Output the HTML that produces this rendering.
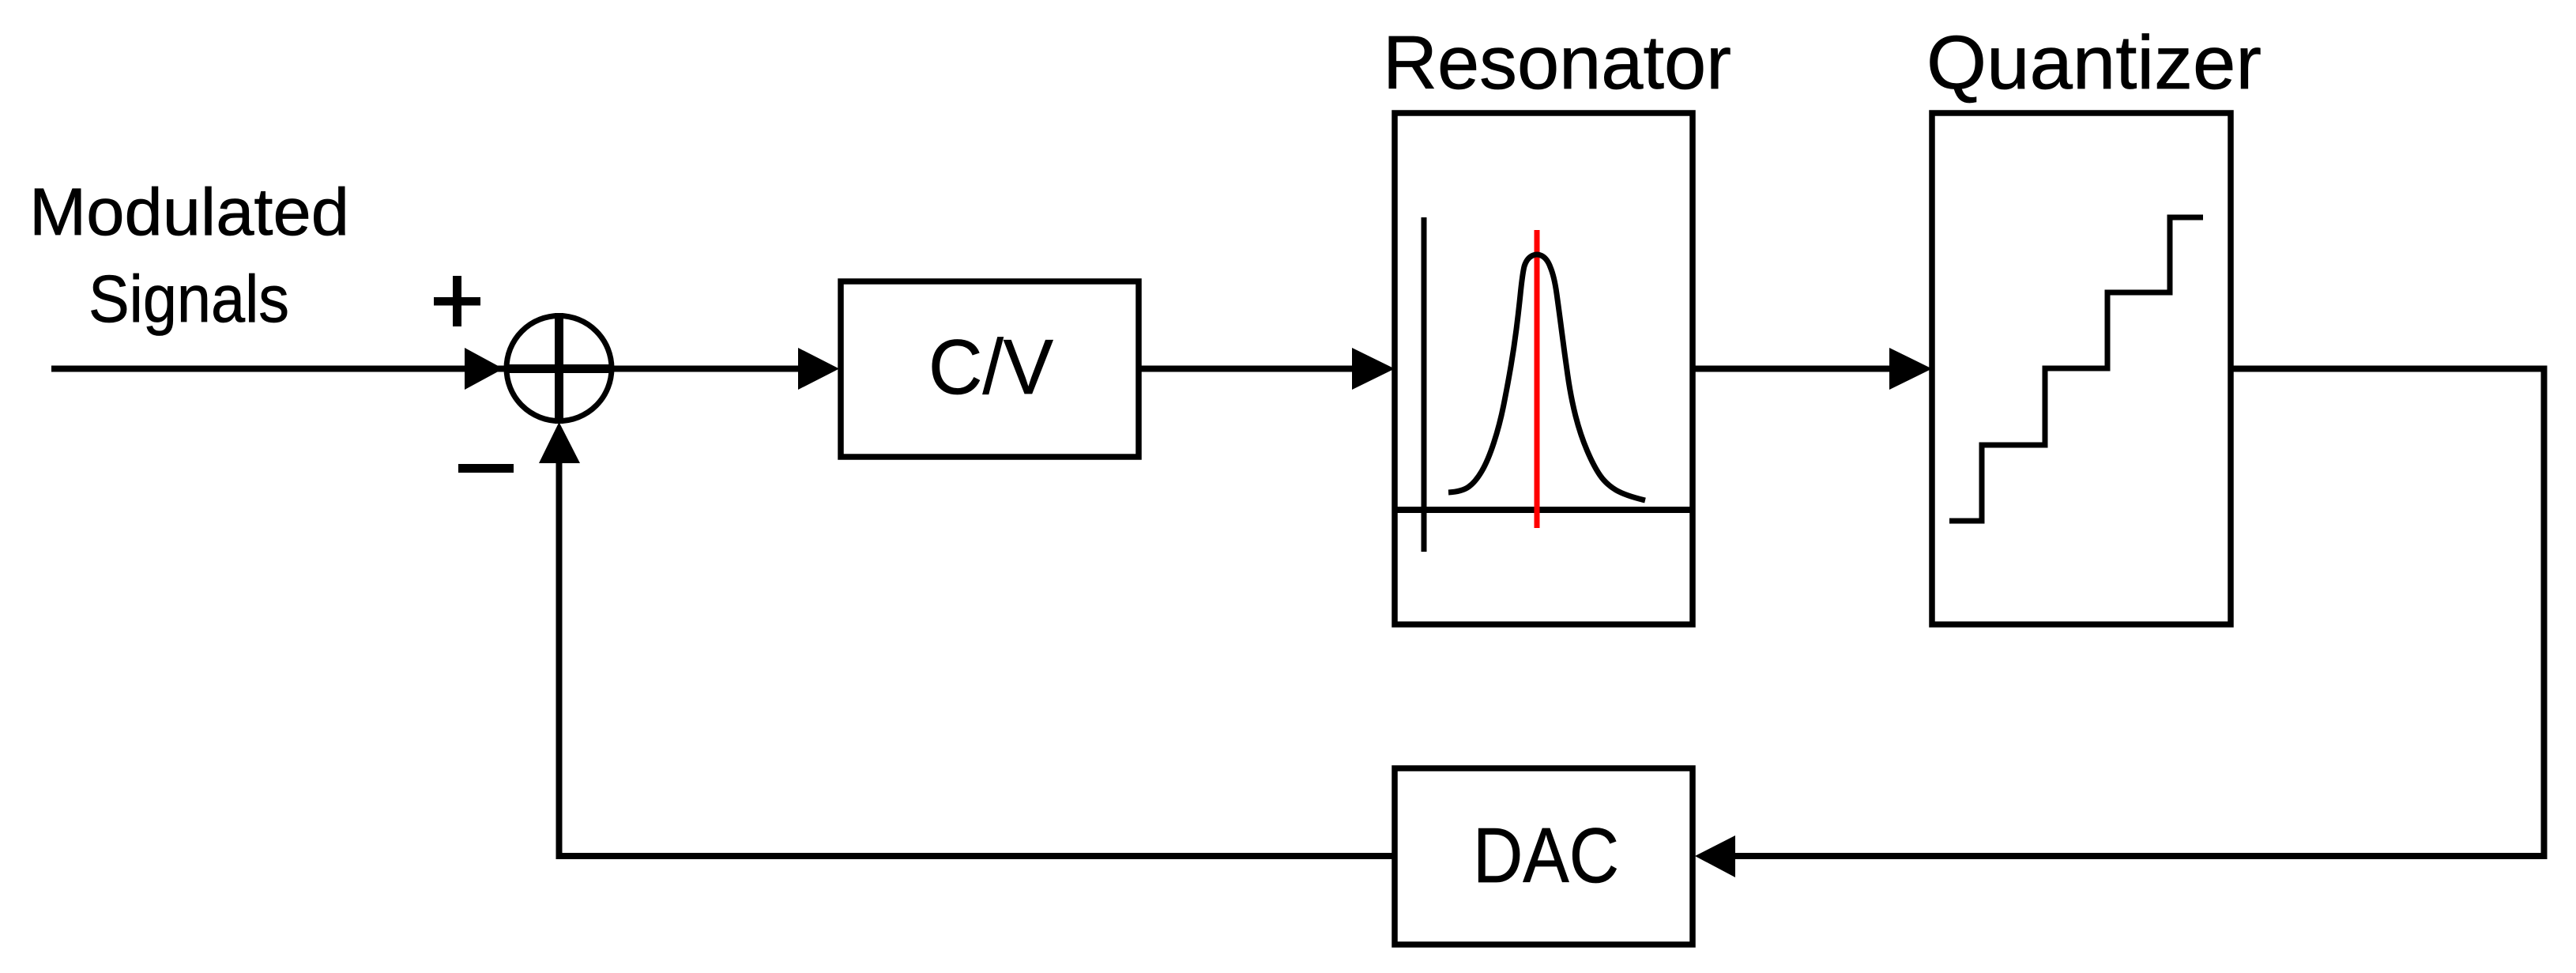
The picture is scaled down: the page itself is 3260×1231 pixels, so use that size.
<!DOCTYPE html>
<html><head><meta charset="utf-8"><style>
html,body{margin:0;padding:0;background:#fff;width:3260px;height:1231px;overflow:hidden}
svg{display:block}
text{font-family:"Liberation Sans",sans-serif;fill:#000;stroke:#000;stroke-width:.7}
</style></head><body>
<svg width="3260" height="1231" viewBox="0 0 3260 1231" xmlns="http://www.w3.org/2000/svg">
<rect width="3260" height="1231" fill="#fff"/>
<g fill="none" stroke="#000" stroke-width="7.5">
<rect x="1064" y="356" width="377" height="222"/>
<rect x="1765" y="143" width="377" height="647"/>
<rect x="2445" y="143" width="378" height="647"/>
<rect x="1765" y="972" width="377" height="223"/>
<circle cx="707.5" cy="466" r="66.5" stroke-width="7"/>
<path d="M65 466.5H1015M1441 466.5H1715M2142 466.5H2395M2823 466.5H3219.5V1083H2190M1765 1083H707.5V580" stroke-width="8"/>
<path d="M641 466.5H774" stroke-width="11"/>
<path d="M707.5 396V536" stroke-width="11"/>
<path d="M1765 645H2142" stroke-width="8"/>
<path d="M1802 275V698" stroke-width="7"/>
<path d="M2467 659H2508V563H2588V466H2667V370H2746V275H2788" stroke-width="7"/>
<path d="M1945 291V668" stroke="#f00" stroke-width="7"/>
<path d="M1833 623Q1850 622 1858.5 616Q1867 610 1875 596.5Q1883 583 1890.5 560Q1898 537 1903 512Q1908 487 1912 463.5Q1916 440 1919 416.5Q1922 393 1924.5 368Q1927 345 1929 337Q1932 327 1939 323.5Q1945 320.5 1951 323.5Q1958 327 1962 338Q1967 350 1970 371.5Q1973 393 1976.5 420Q1980 447 1984 475Q1988 503 1994 526.5Q2000 550 2008.5 570Q2017 590 2025 601.5Q2033 613 2045 620Q2057 627 2082 633" stroke-width="7"/>
</g>
<g fill="#000">
<path d="M588 440L637 466.5L588 493Z"/>
<path d="M1010 440L1062 466.5L1010 493Z"/>
<path d="M1711 440L1765 466.5L1711 493Z"/>
<path d="M2391 440L2445 466.5L2391 493Z"/>
<path d="M2196 1057L2145 1083L2196 1110Z"/>
<path d="M707.5 534L734 586H682Z"/>
<rect x="549" y="376" width="59" height="10.5"/>
<rect x="573" y="349" width="11" height="64"/>
<rect x="580" y="587" width="70" height="11"/>
</g>
<text x="37" y="297" font-size="84" textLength="405" lengthAdjust="spacingAndGlyphs">Modulated</text>
<text x="112" y="407" font-size="84" textLength="254" lengthAdjust="spacingAndGlyphs">Signals</text>
<text x="1750" y="112" font-size="96" textLength="441" lengthAdjust="spacingAndGlyphs">Resonator</text>
<text x="2438" y="112" font-size="96" textLength="424" lengthAdjust="spacingAndGlyphs">Quantizer</text>
<text x="1175" y="498" font-size="98" textLength="158" lengthAdjust="spacingAndGlyphs">C/V</text>
<text x="1864" y="1116" font-size="98" textLength="185" lengthAdjust="spacingAndGlyphs">DAC</text>
</svg>
</body></html>
